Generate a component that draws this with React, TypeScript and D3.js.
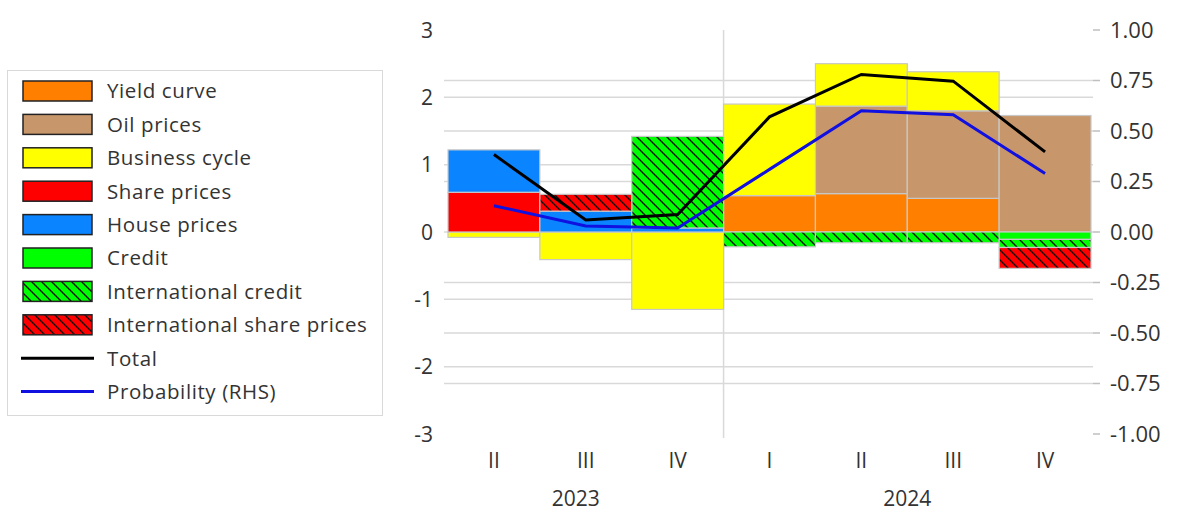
import React from "react";
import * as d3 from "d3";

const quarters = ["II", "III", "IV", "I", "II", "III", "IV"];
const years = [
  { label: "2023", from: 0, to: 2, shift: -10 },
  { label: "2024", from: 3, to: 6, shift: 0 },
];

const yieldCurve = [0, 0, 0, 0.54, 0.57, 0.5, 0];
const oilPrices = [0, 0, 0, 0, 1.3, 1.3, 1.73];
const businessCycle = [-0.08, -0.41, -1.15, 1.36, 0.63, 0.58, 0];
const sharePrices = [0.59, 0, 0, 0, 0, 0, 0];
const housePrices = [0.63, 0.31, 0.06, 0, 0, 0, 0];
const credit = [0, 0, 0, 0, 0, 0, -0.11];
const intlCredit = [0, 0, 1.36, -0.22, -0.16, -0.16, -0.12];
const intlSharePrices = [0, 0.25, 0, 0, 0, 0, -0.31];
const total = [1.15, 0.18, 0.26, 1.71, 2.34, 2.24, 1.19];
const probability = [0.13, 0.03, 0.02, 0.31, 0.6, 0.58, 0.29];

const leftTicks = [3, 2, 1, 0, -1, -2, -3];
const rightTicks = [1, 0.75, 0.5, 0.25, 0, -0.25, -0.5, -0.75, -1];

const seriesDefs = [
  { key: "Yield curve", values: yieldCurve, fill: "#ff8000", hatch: false },
  { key: "Oil prices", values: oilPrices, fill: "#c8966b", hatch: false },
  { key: "Business cycle", values: businessCycle, fill: "#ffff00", hatch: false },
  { key: "Share prices", values: sharePrices, fill: "#ff0000", hatch: false },
  { key: "House prices", values: housePrices, fill: "#0a84ff", hatch: false },
  { key: "Credit", values: credit, fill: "#00ff00", hatch: false },
  { key: "International credit", values: intlCredit, fill: "#00ff00", hatch: true },
  { key: "International share prices", values: intlSharePrices, fill: "#ff0000", hatch: true },
];

const FONT = "'Open Sans', 'Liberation Sans', sans-serif";
const TEXT = "#333333";
const GRID = "#d9d9d9";

export default function App() {
  const W = 1180;
  const H = 513;
  const x = d3.scaleBand<number>().domain(d3.range(quarters.length)).range([448, 1091]).padding(0);
  const yL = d3.scaleLinear().domain([-3, 3]).range([434, 30]);
  const yR = d3.scaleLinear().domain([-1, 1]).range([434, 30]);

  const rows = quarters.map((_, i) => {
    const r: Record<string, number> = {};
    seriesDefs.forEach((s) => (r[s.key] = s.values[i]));
    return r;
  });
  const stacked = d3
    .stack<Record<string, number>>()
    .keys(seriesDefs.map((s) => s.key))
    .offset(d3.stackOffsetDiverging)(rows);

  const totalLine = d3
    .line<number>()
    .x((_, i) => x(i)! + x.bandwidth() / 2)
    .y((d) => yL(d));
  const probLine = d3
    .line<number>()
    .x((_, i) => x(i)! + x.bandwidth() / 2)
    .y((d) => yR(d));

  const gx0 = 444;
  const gx1 = 1093;

  const legendItems = [
    ...seriesDefs.map((s) => ({ label: s.key, type: "box", s })),
    { label: "Total", type: "line", color: "#000000" },
    { label: "Probability (RHS)", type: "line", color: "#1010e0" },
  ] as any[];

  return (
    <svg
      width={W}
      height={H}
      style={{ position: "absolute", left: 0, top: 0, background: "#fff" }}
      fontFamily={FONT}
    >
      <defs>
        {seriesDefs
          .filter((s) => s.hatch)
          .map((s, k) => (
            <pattern
              key={k}
              id={`hatch${seriesDefs.indexOf(s)}`}
              patternUnits="userSpaceOnUse"
              width={10}
              height={10}
            >
              <rect width={10} height={10} fill={s.fill} />
              <path d="M-2.5,-2.5 L12.5,12.5 M-7.5,2.5 L2.5,12.5 M7.5,-2.5 L12.5,2.5" stroke="#111" strokeWidth={1.4} />
            </pattern>
          ))}
      </defs>

      {/* gridlines */}
      {leftTicks
        .filter((t) => t !== 3 && t !== -3)
        .map((t) => (
          <line key={"gl" + t} x1={gx0} x2={gx1} y1={yL(t)} y2={yL(t)} stroke={GRID} strokeWidth={1.5} />
        ))}
      {rightTicks
        .filter((t) => Math.abs(t) !== 1 && t !== 0)
        .map((t) => (
          <line key={"gr" + t} x1={gx0} x2={gx1} y1={yR(t)} y2={yR(t)} stroke={GRID} strokeWidth={1.5} />
        ))}
      {/* year separator */}
      <line x1={x(3)!} x2={x(3)!} y1={30} y2={438} stroke={GRID} strokeWidth={1.5} />

      {/* bars */}
      {stacked.map((layer, li) => {
        const s = seriesDefs[li];
        return (
          <g key={s.key}>
            {layer.map((d, i) => {
              if (d[0] === d[1]) return null;
              const y0 = yL(Math.max(d[0], d[1]));
              const y1 = yL(Math.min(d[0], d[1]));
              return (
                <rect
                  key={i}
                  x={x(i)!}
                  y={y0}
                  width={x.bandwidth()}
                  height={y1 - y0}
                  fill={s.hatch ? `url(#hatch${li})` : s.fill}
                  stroke="#c8c8c8"
                  strokeWidth={1.2}
                />
              );
            })}
          </g>
        );
      })}

      {/* lines */}
      <path d={probLine(probability)!} fill="none" stroke="#1010e0" strokeWidth={3} />
      <path d={totalLine(total)!} fill="none" stroke="#000" strokeWidth={3} />

      {/* left axis labels */}
      {leftTicks.map((t) => (
        <text key={"lt" + t} x={433} y={yL(t)} dy="0.36em" textAnchor="end" fontSize={21} fill={TEXT}>
          {t}
        </text>
      ))}
      {/* right axis */}
      {rightTicks.map((t) => (
        <g key={"rt" + t}>
          <line x1={1093} x2={1100} y1={yR(t)} y2={yR(t)} stroke="#bfbfbf" strokeWidth={1.5} />
          <text x={1110} y={yR(t)} dy="0.36em" fontSize={22} fill={TEXT}>
            {d3.format(".2f")(t).replace("−", "-")}
          </text>
        </g>
      ))}

      {/* category labels */}
      {quarters.map((q, i) => (
        <text key={"q" + i} x={x(i)! + x.bandwidth() / 2} y={460} dy="0.36em" textAnchor="middle" fontSize={21} fill={TEXT}>
          {q}
        </text>
      ))}
      {years.map((yr) => (
        <text
          key={yr.label}
          x={(x(yr.from)! + x(yr.to)! + x.bandwidth()) / 2 + yr.shift}
          y={506}
          textAnchor="middle"
          fontSize={21}
          fill={TEXT}
        >
          {yr.label}
        </text>
      ))}

      {/* legend */}
      <rect x={7.5} y={70.5} width={375} height={345} fill="#fff" stroke={GRID} strokeWidth={1} />
      {legendItems.map((it, k) => {
        const cy = 91 + k * 33.4;
        return (
          <g key={"lg" + k}>
            {it.type === "box" ? (
              <rect
                x={23}
                y={cy - 10}
                width={69}
                height={20}
                fill={it.s.hatch ? `url(#hatch${seriesDefs.indexOf(it.s)})` : it.s.fill}
                stroke="#222"
                strokeWidth={1.5}
              />
            ) : (
              <line x1={21} x2={94} y1={cy} y2={cy} stroke={it.color} strokeWidth={3} />
            )}
            <text x={107} y={cy} dy="0.36em" fontSize={20.5} letterSpacing={0.6} fill={TEXT}>
              {it.label}
            </text>
          </g>
        );
      })}
    </svg>
  );
}
